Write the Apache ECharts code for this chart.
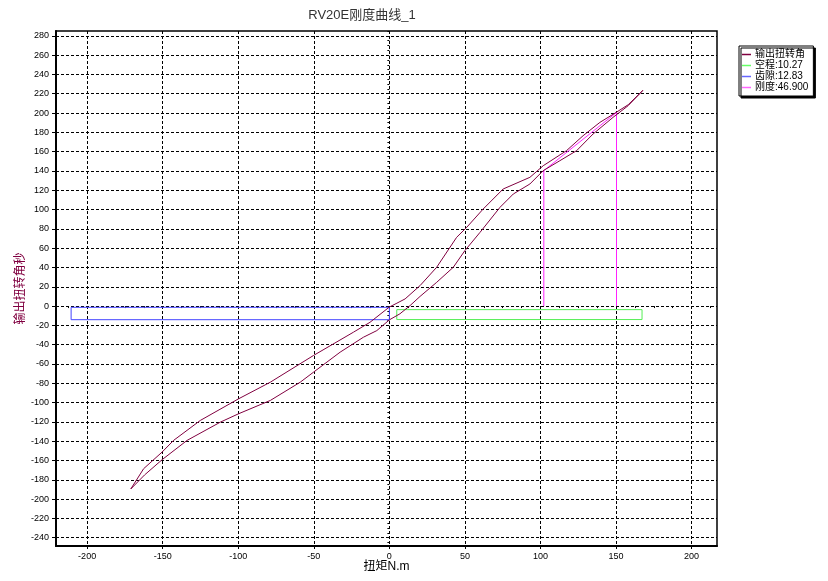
<!DOCTYPE html>
<html><head><meta charset="utf-8">
<script src="https://cdn.jsdelivr.net/npm/echarts@6.0.0/dist/echarts.min.js"></script>
<style>html,body{margin:0;padding:0;background:#fff}#c{width:828px;height:581px}</style>
</head><body><div id="c"></div>
<script>
// ---- text ----
const titleText = 'RV20E刚度曲线_1';
const xName = '扭矩N.m';
const yName = '输出扭转角秒';
const seriesNames = ['输出扭转角', '空程:10.27', '齿隙:12.83', '刚度:46.900'];

// ---- tick labels ----
const xTicks = [-200, -150, -100, -50, 0, 50, 100, 150, 200];
const yTicks = [-240, -220, -200, -180, -160, -140, -120, -100, -80, -60, -40, -20, 0,
  20, 40, 60, 80, 100, 120, 140, 160, 180, 200, 220, 240, 260, 280];
const xRange = [-220.6, 216.8];
const yRange = [-248.6, 285];

// ---- hysteresis curve: loading branch (lower/right) ----
const torqueLoad = [-171.1, -162, -150.4, -133.9, -111.9, -99.8, -78.8, -59, -50.2, -32.6, -17.2, -8.3, 0, 7, 13.7, 20.3, 31.3, 42.3, 50, 60, 73.2, 82, 93, 101.8, 112.8, 123.9, 134.8, 148, 158, 167.8];
const angleLoad = [-189.5, -175, -159.2, -139.2, -120.3, -111.6, -97.8, -78.9, -68.5, -47.8, -32.3, -25.4, -14.3, -8, 0.5, 10, 24.6, 40.2, 57.5, 76.4, 102.3, 116.1, 126.5, 140.3, 150.6, 161, 178.3, 195.5, 207.6, 223.5];
// ---- unloading branch (upper/left) ----
const torqueUnload = [167.8, 158, 150, 139.3, 128.2, 117.2, 101.8, 93, 75.3, 62.1, 51.2, 44.5, 31.3, 20.3, 10.4, 5, 0, -12.8, -23.8, -50.2, -78.8, -99.8, -125.1, -142.8, -150.4, -162.6, -171.1];
const angleUnload = [223.5, 208.6, 200.6, 190.3, 176.5, 161, 145.4, 133.4, 121.3, 100.6, 81.6, 71.2, 40.2, 21.2, 7.4, 3, -1, -16.8, -27.1, -51.2, -78.9, -96.1, -118.5, -139.2, -151.3, -168.5, -189.5];

// ---- lost motion (green) box ----
const lostMotionX = [4.9, 167.2];
const lostMotionY = [-3.7, -13.97];
// ---- backlash (blue) box ----
const backlashX = [-210.6, 0];
const backlashY = [-1.3, -14.13];
// ---- stiffness (magenta) markers ----
const stiffX = [102.2, 150.3];
const stiffY = [140.3, 200.6];

// ---- build ----
const curve = [];
torqueLoad.forEach((t, i) => curve.push([t, angleLoad[i]]));
torqueUnload.forEach((t, i) => curve.push([t, angleUnload[i]]));
function box(xs, ys) {
  return [[xs[0], ys[0]], [xs[1], ys[0]], [xs[1], ys[1]], [xs[0], ys[1]], [xs[0], ys[0]]];
}
const stiffLine = [[stiffX[0], 0], [stiffX[0], stiffY[0]], [stiffX[1], stiffY[1]], [stiffX[1], 0]];

const xMinor = [], yMinor = [];
for (let v = -212.5; v <= 212.5; v += 12.5) xMinor.push(v);
for (let v = -245; v <= 285; v += 5) yMinor.push(v);

const FONT = '"Liberation Sans", "Noto Sans CJK SC", sans-serif';
const chart = echarts.init(document.getElementById('c'));
const lineBase = { type: 'line', showSymbol: false, symbol: 'none', animation: false, silent: true };

chart.setOption({
  animation: false,
  textStyle: { fontFamily: FONT },
  graphic: [{
    type: 'text', x: 362, y: 15,
    style: { text: titleText, textAlign: 'center', textVerticalAlign: 'middle', fontSize: 13, fill: '#333', fontFamily: FONT }
  }],
  legend: {
    orient: 'vertical', left: 739, top: 46,
    padding: [3, 5, 3, 3], itemGap: 0,
    icon: 'rect', itemWidth: 9, itemHeight: 1.5,
    borderColor: '#000', borderWidth: 1, backgroundColor: '#fff',
    shadowColor: '#000', shadowOffsetX: 2, shadowOffsetY: 2, shadowBlur: 0.01,
    textStyle: { fontSize: 10, color: '#000', lineHeight: 11, padding: [0, 0, 0, -1], fontFamily: FONT },
    data: seriesNames, selectedMode: false
  },
  grid: { left: 56, top: 31, width: 661, height: 515, show: true, borderColor: '#000', borderWidth: 1.5, backgroundColor: 'transparent' },
  xAxis: [{
    type: 'value', min: xRange[0], max: xRange[1], position: 'bottom',
    name: xName, nameLocation: 'middle', nameGap: 15, nameMoveOverlap: false,
    nameTextStyle: { fontSize: 12, color: '#000', fontFamily: FONT },
    axisLine: { show: true, onZero: false, lineStyle: { color: '#000', width: 2 } },
    axisTick: { show: true, customValues: xTicks, length: 3, lineStyle: { color: '#000' } },
    axisLabel: { customValues: xTicks, fontSize: 9, color: '#000', margin: 6, fontFamily: FONT },
    splitLine: { show: true, lineStyle: { color: '#000', type: [3, 2], width: 1 } }
  }, {
    type: 'value', min: xRange[0], max: xRange[1], position: 'bottom', offset: 0,
    axisLine: { show: false }, axisLabel: { show: false }, splitLine: { show: false },
    axisTick: { show: true, customValues: xMinor, length: 2, lineStyle: { color: '#000' } }
  }],
  yAxis: [{
    type: 'value', min: yRange[0], max: yRange[1], position: 'left',
    name: yName, nameLocation: 'middle', nameGap: 29, nameRotate: 90, nameMoveOverlap: false,
    nameTextStyle: { fontSize: 12, color: '#800040', fontFamily: FONT },
    axisLine: { show: true, onZero: false, lineStyle: { color: '#000', width: 2 } },
    axisTick: { show: true, customValues: yTicks, length: 4, lineStyle: { color: '#000' } },
    axisLabel: { customValues: yTicks, fontSize: 9, color: '#000', margin: 7, fontFamily: FONT },
    splitLine: { show: true, lineStyle: { color: '#000', type: [3, 2], width: 1 } }
  }, {
    type: 'value', min: yRange[0], max: yRange[1], position: 'left', offset: 0,
    axisLine: { show: false }, axisLabel: { show: false }, splitLine: { show: false },
    axisTick: { show: true, customValues: yMinor, length: 2, lineStyle: { color: '#000' } }
  }],
  series: [
    Object.assign({}, lineBase, { name: seriesNames[0], color: '#800040', data: curve, lineStyle: { width: 1, color: '#800040' }, z: 5 }),
    Object.assign({}, lineBase, { name: seriesNames[1], color: '#66ff66', data: box(lostMotionX, lostMotionY), lineStyle: { width: 1, color: '#55ee55' }, z: 3 }),
    Object.assign({}, lineBase, { name: seriesNames[2], color: '#6666ff', data: box(backlashX, backlashY), lineStyle: { width: 1, color: '#4444ff' }, z: 3 }),
    Object.assign({}, lineBase, { name: seriesNames[3], color: '#ff66ff', data: stiffLine, lineStyle: { width: 1, color: '#ff22ff' }, z: 4 })
  ]
});
</script>
</body></html>
